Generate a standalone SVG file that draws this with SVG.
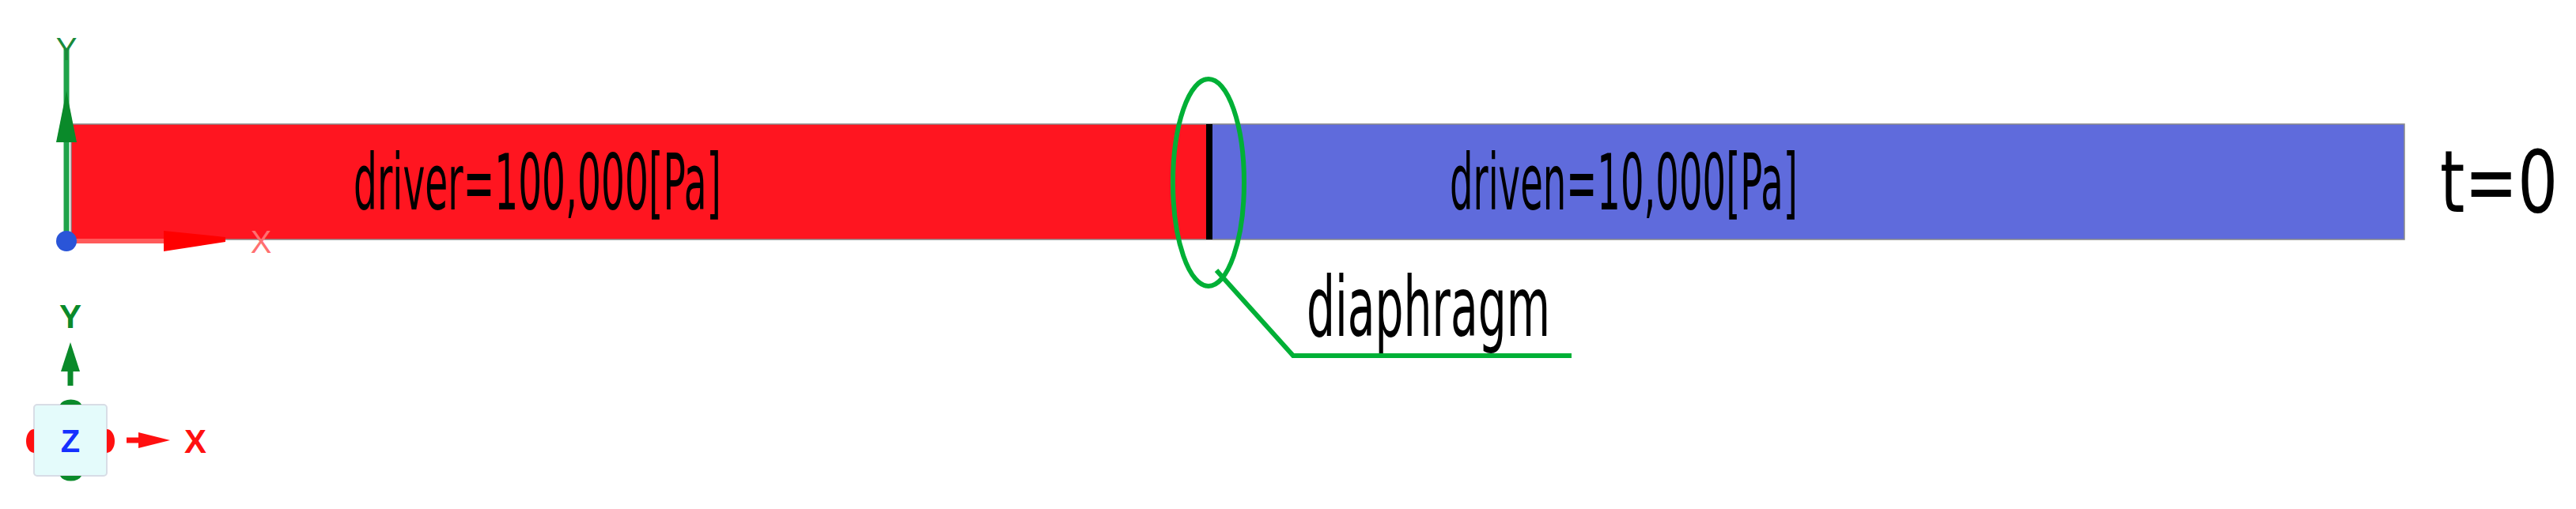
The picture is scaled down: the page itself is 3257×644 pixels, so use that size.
<svg xmlns="http://www.w3.org/2000/svg" width="3257" height="644" viewBox="0 0 3257 644">
<style>
.lbl{font-family:"DejaVu Sans","Liberation Sans",sans-serif;fill:#000;}
.ax{font-family:"Liberation Sans",Arial,sans-serif;font-weight:bold;}
.grn{stroke:#00b036;stroke-width:6;fill:none;}
</style>
<rect width="3257" height="644" fill="#fff"/>
<g id="driver">
<rect x="90" y="157" width="1435" height="146" fill="#ff1520"/>
<text class="lbl" x="447" y="265" font-size="98" textLength="465" lengthAdjust="spacingAndGlyphs">driver=100,000[Pa]</text>
</g>
<g id="driven">
<rect x="1533" y="157" width="1507" height="146" fill="#5f6bdc"/>
<text class="lbl" x="1833" y="265" font-size="98" textLength="440" lengthAdjust="spacingAndGlyphs">driven=10,000[Pa]</text>
</g>
<rect x="90" y="157" width="2950" height="146" fill="none" stroke="#8a8a8a" stroke-width="1.5"/>
<g id="diaphragm">
<rect x="1525" y="157" width="8" height="146" fill="#000"/>
<ellipse class="grn" cx="1528" cy="231" rx="45" ry="131"/>
</g>
<g id="connectors">
<polyline class="grn" points="1538,342 1635,450 1987,450"/>
</g>
<g id="label-diaphragm">
<text class="lbl" x="1652" y="425" font-size="106" textLength="308" lengthAdjust="spacingAndGlyphs">diaphragm</text>
</g>
<g id="label-time">
<text class="lbl" font-size="108" transform="translate(3085,268) scale(0.74,1)">t=0</text>
</g>
<g id="origin-axes">
<line x1="84" y1="62" x2="84" y2="305" stroke="#1fa34a" stroke-width="7"/>
<polygon points="84,115 71,180 97,180" fill="#0a8a2a"/>
<text x="84" y="76" font-size="40" text-anchor="middle" fill="#1a8a3a" font-family="Liberation Sans,Arial,sans-serif">Y</text>
<line x1="84" y1="305" x2="210" y2="305" stroke="#ff5a5a" stroke-width="6"/>
<polygon points="207,292 285,300 285,306 207,318" fill="#ff0000"/>
<text x="330" y="320" font-size="40" text-anchor="middle" fill="#ff7070" font-family="Liberation Sans,Arial,sans-serif">X</text>
<circle cx="84" cy="305" r="13" fill="#2a55d8"/>
</g>
<g id="view-triad">
<rect x="43" y="512" width="92" height="90" rx="4" fill="#e4fbfb" stroke="#d8dde6" stroke-width="2"/>
<path d="M76,512 a14,9 0 0 1 27,0 z" fill="#0a8a2a"/>
<path d="M76,602 a14,9 0 0 0 27,0 z" fill="#0a8a2a"/>
<path d="M43,543 a10,15 0 0 0 0,30 z" fill="#ff1010"/>
<path d="M135,543 a10,15 0 0 1 0,30 z" fill="#ff1010"/>
<text class="ax" x="89" y="572" font-size="40" text-anchor="middle" fill="#1530ff">Z</text>
<line x1="89" y1="488" x2="89" y2="455" stroke="#0a8a2a" stroke-width="7"/>
<polygon points="89,433 77,470 101,470" fill="#0a8a2a"/>
<text class="ax" x="89" y="415" font-size="42" text-anchor="middle" fill="#0a8a2a">Y</text>
<line x1="160" y1="557" x2="185" y2="557" stroke="#ff1010" stroke-width="7"/>
<polygon points="175,547 215,557 175,567" fill="#ff1010"/>
<text class="ax" x="247" y="573" font-size="42" text-anchor="middle" fill="#ff1010">X</text>
</g>
</svg>
